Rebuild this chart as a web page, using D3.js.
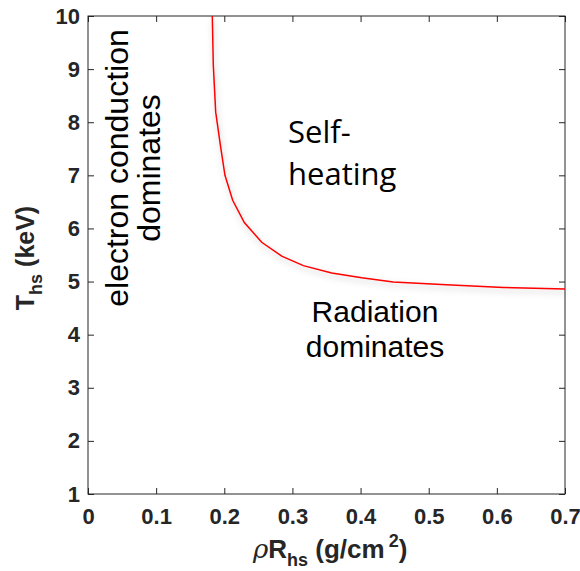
<!DOCTYPE html>
<html>
<head>
<meta charset="utf-8">
<script src="https://cdn.jsdelivr.net/npm/d3@7"></script>
<style>
  html, body { margin: 0; padding: 0; background: #fff; }
  svg { display: block; }
</style>
</head>
<body>
<svg id="chart" width="580" height="571"></svg>
<script>
// Ignition boundary: hot-spot temperature vs areal density
const rhoR = [0.1824, 0.1839, 0.1874, 0.1947, 0.2010, 0.2123, 0.2294, 0.2549,
              0.2843, 0.3160, 0.3576, 0.4017, 0.4480, 0.5260, 0.6095, 0.7000];
const Ths  = [10.0, 9.07, 8.19, 7.53, 7.00, 6.53, 6.11, 5.74,
              5.48, 5.30, 5.16, 5.07, 4.99, 4.94, 4.89, 4.86];

const xTicks = [0, 0.1, 0.2, 0.3, 0.4, 0.5, 0.6, 0.7];
const yTicks = [1, 2, 3, 4, 5, 6, 7, 8, 9, 10];

const W = 580, H = 571;
const margin = { top: 16, right: 15, bottom: 77, left: 88 };
const iw = W - margin.left - margin.right;
const ih = H - margin.top - margin.bottom;

const svg = d3.select("#chart");
const defs = svg.append("defs");
defs.append("clipPath").attr("id", "plotClip")
  .append("rect").attr("x", 0).attr("y", 0).attr("width", iw + 3).attr("height", ih);
const shadow = defs.append("filter").attr("id", "softShadow")
  .attr("x", "-10%").attr("y", "-10%").attr("width", "130%").attr("height", "140%");
shadow.append("feDropShadow").attr("dx", 1).attr("dy", 3)
  .attr("stdDeviation", 3).attr("flood-color", "#000").attr("flood-opacity", 0.25);

const g = svg.append("g").attr("transform", `translate(${margin.left},${margin.top})`);

const x = d3.scaleLinear().domain([0, 0.7]).range([0, iw]);
const y = d3.scaleLinear().domain([1, 10]).range([ih, 0]);

const tickFont = "'Liberation Sans', Arial, Helvetica, sans-serif";
const axisColor = "#262626";

function styleAxis(sel) {
  sel.select(".domain").remove();
  sel.selectAll(".tick line").attr("stroke", axisColor).attr("stroke-width", 1);
  sel.selectAll(".tick text")
    .attr("fill", axisColor)
    .style("font-family", tickFont)
    .style("font-weight", "bold")
    .style("font-size", "22px");
}

// bottom and left axes with labels, ticks pointing inward
g.append("g").attr("transform", `translate(0,${ih})`)
  .call(d3.axisBottom(x).tickValues(xTicks).tickSize(-6).tickPadding(14)
    .tickFormat(d => d === 0 ? "0" : d3.format(".1f")(d)))
  .call(styleAxis);

g.append("g")
  .call(d3.axisLeft(y).tickValues(yTicks).tickSize(-6).tickPadding(8)
    .tickFormat(d3.format("d")))
  .call(styleAxis);

// mirrored ticks on top and right
g.append("g")
  .call(d3.axisTop(x).tickValues(xTicks).tickSize(-6).tickFormat(""))
  .call(styleAxis);
g.append("g").attr("transform", `translate(${iw},0)`)
  .call(d3.axisRight(y).tickValues(yTicks).tickSize(-6).tickFormat(""))
  .call(styleAxis);

// axes box
g.append("rect").attr("x", 0).attr("y", 0).attr("width", iw).attr("height", ih)
  .attr("fill", "none").attr("stroke", axisColor).attr("stroke-width", 1);

// boundary curve
const line = d3.line().x((d, i) => x(rhoR[i])).y(d => y(d));
g.append("g").attr("clip-path", "url(#plotClip)")
  .append("path")
  .datum(Ths)
  .attr("d", line)
  .attr("fill", "none")
  .attr("stroke", "#ff0000")
  .attr("stroke-width", 1.5)
  .attr("filter", "url(#softShadow)");

// region annotations
const annFont = "'Liberation Sans', Arial, Helvetica, sans-serif";
const elec = g.append("text")
  .attr("transform", `translate(${128 - margin.left},${168 - margin.top}) rotate(-90)`)
  .attr("text-anchor", "middle")
  .style("font-family", annFont).style("font-size", "32px").attr("fill", "#000");
elec.append("tspan").attr("x", 0).attr("y", 0).text("electron conduction");
elec.append("tspan").attr("x", 0).attr("y", 32).text("dominates");

const selfH = g.append("text")
  .style("font-family", "'Open Sans', sans-serif").style("font-size", "31px").attr("fill", "#000");
selfH.append("tspan").attr("x", 288 - margin.left).attr("y", 143 - margin.top).text("Self-");
selfH.append("tspan").attr("x", 288 - margin.left).attr("y", 185 - margin.top).text("heating");

const rad = g.append("text")
  .attr("text-anchor", "middle")
  .style("font-family", annFont).style("font-size", "30px").attr("fill", "#000");
rad.append("tspan").attr("x", 375 - margin.left).attr("y", 322 - margin.top).text("Radiation");
rad.append("tspan").attr("x", 375 - margin.left).attr("y", 357 - margin.top).text("dominates");

// axis titles
const labFont = "'Liberation Sans', Arial, Helvetica, sans-serif";
const xl = svg.append("text")
  .attr("x", 253).attr("y", 558)
  .style("font-family", labFont).style("font-size", "26px").style("font-weight", "bold")
  .attr("fill", axisColor);
xl.append("tspan").text("ρ").style("font-weight", "normal").style("font-style", "italic")
  .style("font-family", "'DejaVu Serif', serif");
xl.append("tspan").text("R");
xl.append("tspan").text("hs").attr("dy", 8).style("font-size", "18px");
xl.append("tspan").text(" (g/cm").attr("dy", -8);
xl.append("tspan").text("2").attr("dx", 4).attr("dy", -11).style("font-size", "18px");
xl.append("tspan").text(")").attr("dy", 11);

const yl = svg.append("text")
  .attr("transform", `translate(34,${margin.top + ih / 2 + 3}) rotate(-90)`)
  .attr("text-anchor", "middle")
  .style("font-family", labFont).style("font-size", "25px").style("font-weight", "bold")
  .attr("fill", axisColor);
yl.append("tspan").text("T");
yl.append("tspan").text("hs").attr("dy", 8).style("font-size", "18px");
yl.append("tspan").text(" (keV)").attr("dy", -8);
</script>
</body>
</html>
